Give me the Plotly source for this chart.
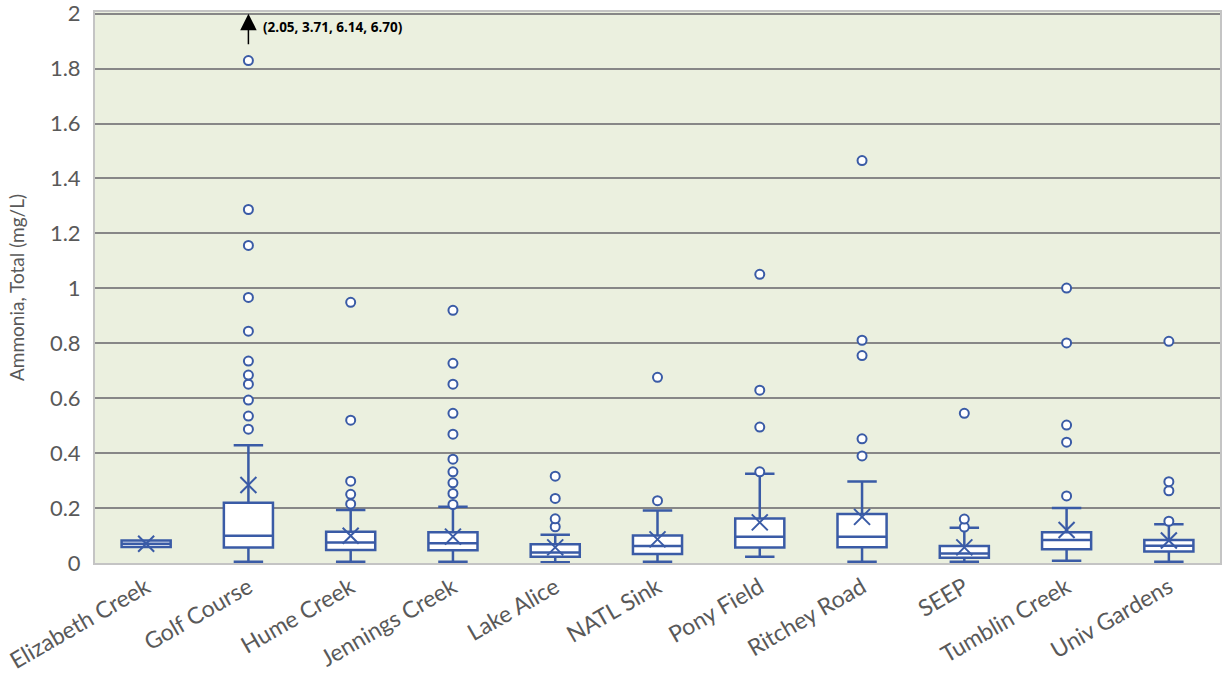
import plotly.graph_objects as go

# Sampling sites
categories = ["Elizabeth Creek", "Golf Course", "Hume Creek", "Jennings Creek",
              "Lake Alice", "NATL Sink", "Pony Field", "Ritchey Road", "SEEP",
              "Tumblin Creek", "Univ Gardens"]

# Box statistics for total ammonia (mg/L)
q1 = [0.058, 0.056, 0.047, 0.046, 0.023, 0.033, 0.056, 0.057, 0.019, 0.050, 0.042]
median = [0.070, 0.099, 0.075, 0.072, 0.038, 0.062, 0.096, 0.096, 0.035, 0.084, 0.063]
q3 = [0.082, 0.219, 0.114, 0.112, 0.068, 0.100, 0.162, 0.178, 0.062, 0.112, 0.084]
lower_whisker = [0.058, 0.005, 0.005, 0.005, 0.003, 0.005, 0.023, 0.005, 0.005, 0.008, 0.005]
upper_whisker = [0.082, 0.429, 0.193, 0.205, 0.103, 0.191, 0.325, 0.297, 0.128, 0.200, 0.141]
means = [0.070, 0.284, 0.099, 0.096, 0.057, 0.086, 0.148, 0.168, 0.057, 0.120, 0.082]

# Outlying samples per site
outliers = [
    [],
    [0.487, 0.535, 0.593, 0.651, 0.684, 0.735, 0.844, 0.967, 1.156, 1.287, 1.829,
     2.05, 3.71, 6.14, 6.70],
    [0.215, 0.250, 0.298, 0.520, 0.949],
    [0.213, 0.253, 0.292, 0.332, 0.378, 0.469, 0.545, 0.651, 0.727, 0.920],
    [0.132, 0.161, 0.235, 0.316],
    [0.227, 0.676],
    [0.332, 0.495, 0.629, 1.051],
    [0.390, 0.452, 0.755, 0.811, 1.465],
    [0.131, 0.160, 0.545],
    [0.244, 0.440, 0.502, 0.801, 1.001],
    [0.152, 0.263, 0.296, 0.807],
]

# Y-axis ticks
y_ticks = [0, 0.2, 0.4, 0.6, 0.8, 1, 1.2, 1.4, 1.6, 1.8, 2]
y_tick_labels = ["0", "0.2", "0.4", "0.6", "0.8", "1", "1.2", "1.4", "1.6", "1.8", "2"]

y_max = 2.0
blue = "#3A5BA6"
grey_text = "#595959"
font_family = "Lato, 'Open Sans', sans-serif"

fig = go.Figure()

fig.add_trace(go.Box(
    x=categories, q1=q1, median=median, q3=q3,
    lowerfence=lower_whisker, upperfence=upper_whisker,
    boxpoints=False, width=0.48, whiskerwidth=0.6,
    fillcolor="white", line=dict(color=blue, width=2.5),
    showlegend=False,
))

out_x, out_y = [], []
for cat, vals in zip(categories, outliers):
    for v in vals:
        out_x.append(cat)
        out_y.append(v)

fig.add_trace(go.Scatter(
    x=out_x, y=out_y, mode="markers", showlegend=False,
    marker=dict(symbol="circle", size=9, color="white",
                line=dict(color=blue, width=2)),
))

fig.add_trace(go.Scatter(
    x=categories, y=means, mode="markers", showlegend=False,
    marker=dict(symbol="x-thin", size=16, color=blue,
                line=dict(color=blue, width=2)),
))

# Off-scale Golf Course values, noted above the plot
off_scale = [v for v in outliers[1] if v > y_max]
fig.add_annotation(
    x="Golf Course", y=y_max, xref="x", yref="y",
    ax=0, ay=32, axref="pixel", ayref="pixel",
    text="", showarrow=True, arrowhead=2, arrowsize=2.2,
    arrowwidth=1.5, arrowcolor="black",
)
fig.add_annotation(
    x="Golf Course", y=1.95, xref="x", yref="y",
    xshift=13, xanchor="left", yanchor="middle",
    text="<b>(" + ", ".join(f"{v:.2f}" for v in off_scale) + ")</b>",
    showarrow=False, font=dict(family="'Open Sans', sans-serif", size=13.5, color="black"),
)

fig.update_layout(
    width=1225, height=680,
    margin=dict(l=95, r=5, t=12, b=117),
    paper_bgcolor="white", plot_bgcolor="#EBF0DF",
    font=dict(family=font_family, color=grey_text),
    xaxis=dict(
        type="category", range=[-0.5, len(categories) - 0.5],
        tickangle=-30, tickfont=dict(size=23, color=grey_text),
        showline=True, mirror=True, linecolor="#C4C4C4", linewidth=2,
        showgrid=False, ticks="", automargin=False,
    ),
    yaxis=dict(
        range=[0, y_max + 0.006], tickmode="array",
        tickvals=y_ticks, ticktext=y_tick_labels,
        tickfont=dict(size=22, color=grey_text), ticklabelstandoff=8,
        ticklabeloverflow="allow", automargin="left",
        showgrid=True, gridcolor="#878787", gridwidth=2,
        showline=True, mirror=True, linecolor="#C4C4C4", linewidth=2,
        zeroline=False, ticks="",
        title=dict(text="Ammonia, Total (mg/L)", font=dict(size=19, color=grey_text),
                   standoff=20),
    ),
)

fig.write_html("out.html")
